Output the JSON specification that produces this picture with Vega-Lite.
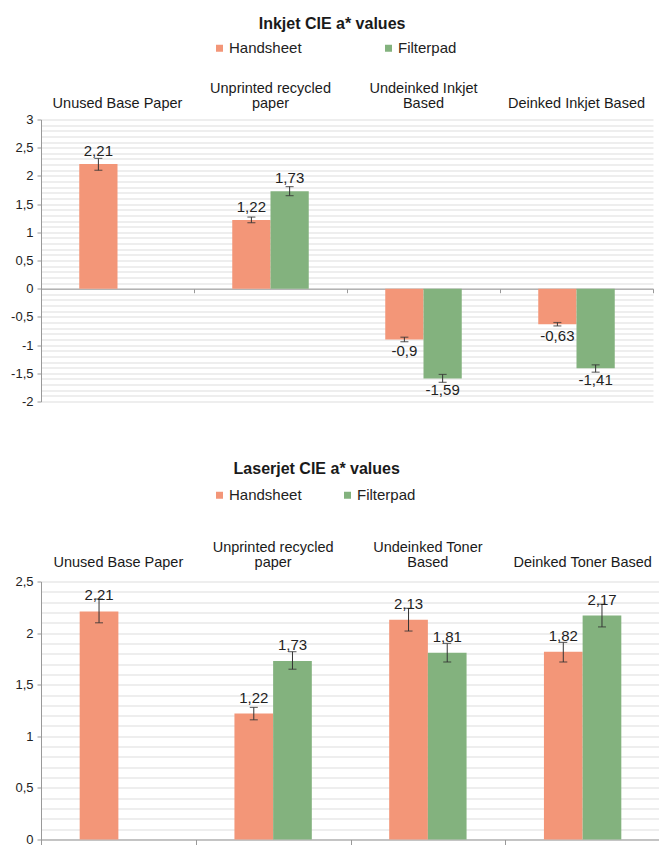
{
  "$schema": "https://vega.github.io/schema/vega-lite/v6.json",
  "background": "white",
  "padding": {"left": 10, "top": 15.5, "right": 0, "bottom": 0},
  "config": {
    "font": "Liberation Sans",
    "locale": {"number": {"decimal": ",", "thousands": ".", "grouping": [3], "currency": ["", ""], "minus": "-"}},
    "view": {"stroke": null},
    "title": {"fontSize": 16, "fontWeight": "bold", "color": "#1a1a1a", "anchor": "middle"},
    "axis": {"labelColor": "#222", "domainColor": "#999", "tickColor": "#999", "gridColor": "#dddddd"},
    "legend": {"labelFontSize": 15, "labelColor": "#222", "symbolType": "square", "symbolSize": 49, "symbolStrokeWidth": 0, "labelOffset": 2, "padding": 0},
    "text": {"fontSize": 15, "color": "#222"}
  },
  "datasets": {
    "inkjet": [
      {"category": "Unused Base Paper", "series": "Handsheet", "value": 2.21, "lo": 2.10, "hi": 2.31},
      {"category": "Unprinted recycled paper", "series": "Handsheet", "value": 1.22, "lo": 1.17, "hi": 1.27},
      {"category": "Unprinted recycled paper", "series": "Filterpad", "value": 1.73, "lo": 1.65, "hi": 1.81},
      {"category": "Undeinked Inkjet Based", "series": "Handsheet", "value": -0.9, "lo": -0.94, "hi": -0.86},
      {"category": "Undeinked Inkjet Based", "series": "Filterpad", "value": -1.59, "lo": -1.66, "hi": -1.52},
      {"category": "Deinked Inkjet Based", "series": "Handsheet", "value": -0.63, "lo": -0.66, "hi": -0.60},
      {"category": "Deinked Inkjet Based", "series": "Filterpad", "value": -1.41, "lo": -1.48, "hi": -1.35}
    ],
    "laserjet": [
      {"category": "Unused Base Paper", "series": "Handsheet", "value": 2.21, "lo": 2.10, "hi": 2.33},
      {"category": "Unprinted recycled paper", "series": "Handsheet", "value": 1.22, "lo": 1.16, "hi": 1.28},
      {"category": "Unprinted recycled paper", "series": "Filterpad", "value": 1.73, "lo": 1.65, "hi": 1.82},
      {"category": "Undeinked Toner Based", "series": "Handsheet", "value": 2.13, "lo": 2.02, "hi": 2.24},
      {"category": "Undeinked Toner Based", "series": "Filterpad", "value": 1.81, "lo": 1.72, "hi": 1.90},
      {"category": "Deinked Toner Based", "series": "Handsheet", "value": 1.82, "lo": 1.72, "hi": 1.91},
      {"category": "Deinked Toner Based", "series": "Filterpad", "value": 2.17, "lo": 2.06, "hi": 2.28}
    ]
  },
  "spacing": 52,
  "resolve": {
    "scale": {"x": "independent", "y": "independent", "xOffset": "independent", "color": "independent"},
    "legend": {"color": "independent"},
    "axis": {"x": "independent", "y": "independent"}
  },
  "vconcat": [
    {
      "width": 612,
      "height": 282,
      "data": {"name": "inkjet"},
      "title": {"text": "Inkjet CIE a* values", "frame": "bounds", "offset": 9},
      "resolve": {"axis": {"x": "independent"}},
      "layer": [
        {
          "mark": {"type": "bar"},
          "encoding": {
            "x": {"field": "category", "type": "nominal", "sort": ["Unused Base Paper", "Unprinted recycled paper", "Undeinked Inkjet Based", "Deinked Inkjet Based"], "title": null,
              "scale": {"paddingInner": 0, "paddingOuter": 0},
              "axis": {"orient": "top", "domain": false, "ticks": false, "grid": false, "labelAngle": 0, "labelFontSize": 14.5, "labelPadding": 24, "labelLineHeight": 15, "labelLimit": 300, "labelColor": "#1a1a1a",
                "labelExpr": "datum.value == 'Unprinted recycled paper' ? ['Unprinted recycled', 'paper'] : datum.value == 'Undeinked Inkjet Based' ? ['Undeinked Inkjet', 'Based'] : ['', datum.label]"}},
            "xOffset": {"field": "series", "type": "nominal", "sort": ["Handsheet", "Filterpad"], "scale": {"paddingInner": 0, "paddingOuter": 1}},
            "y": {"field": "value", "type": "quantitative", "title": null,
              "scale": {"domain": [-2, 3], "nice": false, "zero": false},
              "axis": {"values": [-2, -1.9, -1.8, -1.7, -1.6, -1.5, -1.4, -1.3, -1.2, -1.1, -1, -0.9, -0.8, -0.7, -0.6, -0.5, -0.4, -0.3, -0.2, -0.1, 0, 0.1, 0.2, 0.3, 0.4, 0.5, 0.6, 0.7, 0.8, 0.9, 1, 1.1, 1.2, 1.3, 1.4, 1.5, 1.6, 1.7, 1.8, 1.9, 2, 2.1, 2.2, 2.3, 2.4, 2.5, 2.6, 2.7, 2.8, 2.9, 3],
                "tickCount": 80, "labelOverlap": false,
                "format": "~g",
                "labelExpr": "abs(datum.value*2 - round(datum.value*2)) < 0.001 ? datum.label : ''",
                "grid": true, "gridColor": "#dddddd", "tickSize": 4,
                "tickOpacity": {"condition": {"test": "abs(datum.value*2 - round(datum.value*2)) < 0.001", "value": 1}, "value": 0},
                "labelFontSize": 13, "labelPadding": 4, "title": null}},
            "color": {"field": "series", "type": "nominal",
              "scale": {"domain": ["Handsheet", "Filterpad"], "range": ["#F39678", "#83B27E"]},
              "legend": {"orient": "none", "legendX": 171, "legendY": -79, "direction": "horizontal", "title": null, "columnPadding": 79}}
          }
        },
        {
          "mark": {"type": "rule", "color": "#333", "strokeWidth": 1},
          "encoding": {
            "x": {"field": "category", "type": "nominal", "sort": ["Unused Base Paper", "Unprinted recycled paper", "Undeinked Inkjet Based", "Deinked Inkjet Based"], "title": null,
              "axis": {"orient": "bottom", "offset": -112.8, "labels": false, "domain": true, "domainColor": "#999", "ticks": true, "tickSize": 4, "tickBand": "extent", "grid": false, "title": null}},
            "xOffset": {"field": "series", "type": "nominal", "sort": ["Handsheet", "Filterpad"]},
            "y": {"field": "lo", "type": "quantitative", "title": null},
            "y2": {"field": "hi"}
          }
        },
        {
          "mark": {"type": "tick", "orient": "horizontal", "size": 8, "thickness": 1.2, "color": "#333"},
          "encoding": {
            "x": {"field": "category", "type": "nominal", "sort": ["Unused Base Paper", "Unprinted recycled paper", "Undeinked Inkjet Based", "Deinked Inkjet Based"], "axis": null},
            "xOffset": {"field": "series", "type": "nominal", "sort": ["Handsheet", "Filterpad"]},
            "y": {"field": "lo", "type": "quantitative", "title": null}
          }
        },
        {
          "mark": {"type": "tick", "orient": "horizontal", "size": 8, "thickness": 1.2, "color": "#333"},
          "encoding": {
            "x": {"field": "category", "type": "nominal", "sort": ["Unused Base Paper", "Unprinted recycled paper", "Undeinked Inkjet Based", "Deinked Inkjet Based"], "axis": null},
            "xOffset": {"field": "series", "type": "nominal", "sort": ["Handsheet", "Filterpad"]},
            "y": {"field": "hi", "type": "quantitative", "title": null}
          }
        },
        {
          "transform": [{"filter": "datum.value >= 0"}],
          "mark": {"type": "text", "baseline": "alphabetic", "dy": -8},
          "encoding": {
            "x": {"field": "category", "type": "nominal", "sort": ["Unused Base Paper", "Unprinted recycled paper", "Undeinked Inkjet Based", "Deinked Inkjet Based"], "axis": null},
            "xOffset": {"field": "series", "type": "nominal", "sort": ["Handsheet", "Filterpad"]},
            "y": {"field": "value", "type": "quantitative", "title": null},
            "text": {"field": "value", "type": "quantitative", "format": "~g"}
          }
        },
        {
          "transform": [{"filter": "datum.value < 0"}],
          "mark": {"type": "text", "baseline": "top", "dy": 5},
          "encoding": {
            "x": {"field": "category", "type": "nominal", "sort": ["Unused Base Paper", "Unprinted recycled paper", "Undeinked Inkjet Based", "Deinked Inkjet Based"], "axis": null},
            "xOffset": {"field": "series", "type": "nominal", "sort": ["Handsheet", "Filterpad"]},
            "y": {"field": "value", "type": "quantitative", "title": null},
            "text": {"field": "value", "type": "quantitative", "format": "~g"}
          }
        }
      ]
    },
    {
      "width": 619,
      "height": 258,
      "data": {"name": "laserjet"},
      "title": {"text": "Laserjet CIE a* values", "frame": "bounds", "offset": 11, "dx": -21},
      "resolve": {"axis": {"x": "independent"}},
      "layer": [
        {
          "mark": {"type": "bar"},
          "encoding": {
            "x": {"field": "category", "type": "nominal", "sort": ["Unused Base Paper", "Unprinted recycled paper", "Undeinked Toner Based", "Deinked Toner Based"], "title": null,
              "scale": {"paddingInner": 0, "paddingOuter": 0},
              "axis": {"orient": "top", "domain": false, "ticks": false, "grid": false, "labelAngle": 0, "labelFontSize": 14.5, "labelPadding": 27, "labelLineHeight": 15, "labelLimit": 300, "labelColor": "#1a1a1a",
                "labelExpr": "datum.value == 'Unprinted recycled paper' ? ['Unprinted recycled', 'paper'] : datum.value == 'Undeinked Toner Based' ? ['Undeinked Toner', 'Based'] : ['', datum.label]"}},
            "xOffset": {"field": "series", "type": "nominal", "sort": ["Handsheet", "Filterpad"], "scale": {"paddingInner": 0, "paddingOuter": 1}},
            "y": {"field": "value", "type": "quantitative", "title": null,
              "scale": {"domain": [0, 2.5], "nice": false},
              "axis": {"values": [0, 0.1, 0.2, 0.3, 0.4, 0.5, 0.6, 0.7, 0.8, 0.9, 1, 1.1, 1.2, 1.3, 1.4, 1.5, 1.6, 1.7, 1.8, 1.9, 2, 2.1, 2.2, 2.3, 2.4, 2.5],
                "tickCount": 80, "labelOverlap": false,
                "format": "~g",
                "labelExpr": "abs(datum.value*2 - round(datum.value*2)) < 0.001 ? datum.label : ''",
                "grid": true, "gridColor": "#dddddd", "tickSize": 4,
                "tickOpacity": {"condition": {"test": "abs(datum.value*2 - round(datum.value*2)) < 0.001", "value": 1}, "value": 0},
                "labelFontSize": 13, "labelPadding": 4, "title": null}},
            "color": {"field": "series", "type": "nominal",
              "scale": {"domain": ["Handsheet", "Filterpad"], "range": ["#F39678", "#83B27E"]},
              "legend": {"orient": "none", "legendX": 171, "legendY": -94, "direction": "horizontal", "title": null, "columnPadding": 38}}
          }
        },
        {
          "mark": {"type": "rule", "color": "#333", "strokeWidth": 1},
          "encoding": {
            "x": {"field": "category", "type": "nominal", "sort": ["Unused Base Paper", "Unprinted recycled paper", "Undeinked Toner Based", "Deinked Toner Based"], "title": null,
              "axis": {"orient": "bottom", "labels": false, "domain": true, "domainColor": "#999", "ticks": true, "tickSize": 5, "tickBand": "extent", "grid": false, "title": null}},
            "xOffset": {"field": "series", "type": "nominal", "sort": ["Handsheet", "Filterpad"]},
            "y": {"field": "lo", "type": "quantitative", "title": null},
            "y2": {"field": "hi"}
          }
        },
        {
          "mark": {"type": "tick", "orient": "horizontal", "size": 8, "thickness": 1.2, "color": "#333"},
          "encoding": {
            "x": {"field": "category", "type": "nominal", "sort": ["Unused Base Paper", "Unprinted recycled paper", "Undeinked Toner Based", "Deinked Toner Based"], "axis": null},
            "xOffset": {"field": "series", "type": "nominal", "sort": ["Handsheet", "Filterpad"]},
            "y": {"field": "lo", "type": "quantitative", "title": null}
          }
        },
        {
          "mark": {"type": "tick", "orient": "horizontal", "size": 8, "thickness": 1.2, "color": "#333"},
          "encoding": {
            "x": {"field": "category", "type": "nominal", "sort": ["Unused Base Paper", "Unprinted recycled paper", "Undeinked Toner Based", "Deinked Toner Based"], "axis": null},
            "xOffset": {"field": "series", "type": "nominal", "sort": ["Handsheet", "Filterpad"]},
            "y": {"field": "hi", "type": "quantitative", "title": null}
          }
        },
        {
          "mark": {"type": "text", "baseline": "alphabetic", "dy": -11},
          "encoding": {
            "x": {"field": "category", "type": "nominal", "sort": ["Unused Base Paper", "Unprinted recycled paper", "Undeinked Toner Based", "Deinked Toner Based"], "axis": null},
            "xOffset": {"field": "series", "type": "nominal", "sort": ["Handsheet", "Filterpad"]},
            "y": {"field": "value", "type": "quantitative", "title": null},
            "text": {"field": "value", "type": "quantitative", "format": "~g"}
          }
        }
      ]
    }
  ]
}
